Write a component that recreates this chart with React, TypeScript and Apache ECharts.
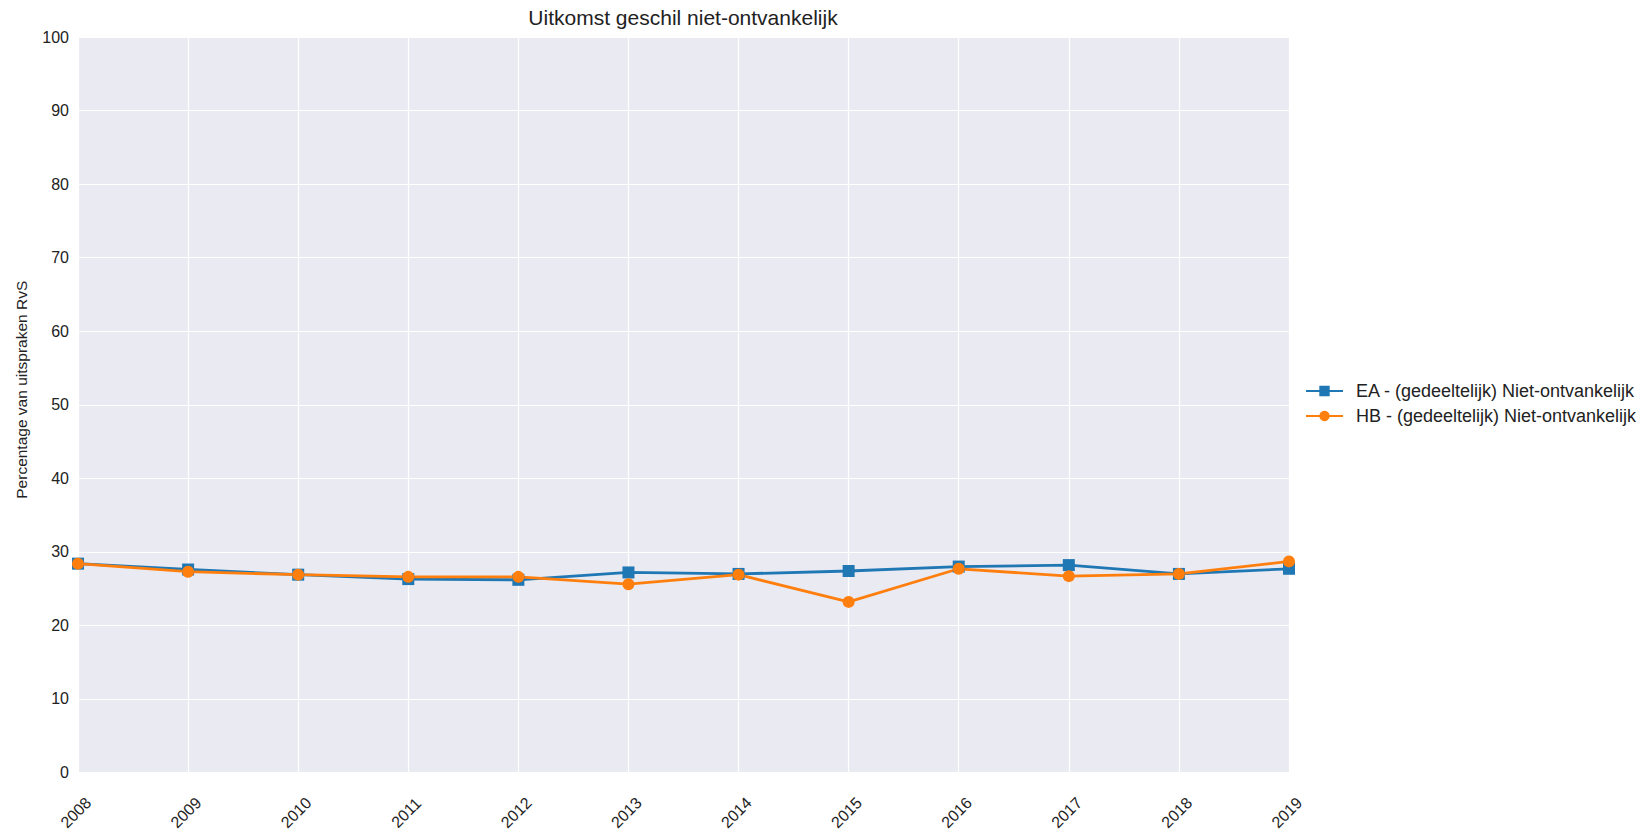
import React, { useEffect, useRef } from "react";
import * as echarts from "echarts";

const years = ["2008", "2009", "2010", "2011", "2012", "2013", "2014", "2015", "2016", "2017", "2018", "2019"];
const eaValues = [28.4, 27.6, 26.9, 26.3, 26.2, 27.2, 27.0, 27.4, 28.0, 28.2, 27.0, 27.7];
const hbValues = [28.4, 27.3, 26.9, 26.6, 26.6, 25.6, 26.9, 23.2, 27.7, 26.7, 27.0, 28.7];
const seriesNames = ["EA - (gedeeltelijk) Niet-ontvankelijk", "HB - (gedeeltelijk) Niet-ontvankelijk"];
const yTicks = { min: 0, max: 100, interval: 10 };

export default function App() {
  const ref = useRef<HTMLDivElement>(null);
  useEffect(() => {
    if (!ref.current) return;
    const chart = echarts.init(ref.current, null, { renderer: "svg" });
    const font = "Liberation Sans, Arial, sans-serif";
    chart.setOption({
      animation: false,
      backgroundColor: "#ffffff",
      title: {
        text: "Uitkomst geschil niet-ontvankelijk",
        left: 678,
        textAlign: "center",
        top: 2,
        textStyle: { fontFamily: font, fontWeight: "normal", fontSize: 21, color: "#222" },
      },
      legend: {
        orient: "vertical",
        left: 1300,
        top: 377,
        itemGap: 7,
        itemWidth: 37,
        itemHeight: 13,
        textStyle: { fontFamily: font, fontSize: 18, color: "#222", padding: [0, 0, 0, 8] },
        data: seriesNames,
      },
      grid: {
        show: true,
        backgroundColor: "#eaeaf2",
        borderWidth: 0,
        left: 78,
        right: 359,
        top: 37,
        bottom: 60,
        containLabel: false,
      },
      xAxis: {
        type: "category",
        data: years,
        boundaryGap: false,
        axisLine: { show: false },
        axisTick: { show: false },
        splitLine: { show: true, lineStyle: { color: "#ffffff", width: 1.2 } },
        axisLabel: {
          rotate: 45,
          align: "center",
          verticalAlign: "middle",
          margin: 38,
          padding: [0, 6, 0, 0],
          fontFamily: font,
          fontSize: 16,
          color: "#222",
        },
      },
      yAxis: {
        type: "value",
        min: yTicks.min,
        max: yTicks.max,
        interval: yTicks.interval,
        name: "Percentage van uitspraken RvS",
        nameLocation: "middle",
        nameGap: 49,
        nameTextStyle: { fontFamily: font, fontSize: 15.5, color: "#222", padding: [0, 0, 0, 30] },
        axisLine: { show: false },
        axisTick: { show: false },
        splitLine: { show: true, lineStyle: { color: "#ffffff", width: 1.2 } },
        axisLabel: { fontFamily: font, fontSize: 16, color: "#222", margin: 9 },
      },
      series: [
        {
          name: seriesNames[0],
          type: "line",
          data: eaValues,
          symbol: "rect",
          symbolSize: 12,
          lineStyle: { width: 2.8, color: "#1f77b4" },
          itemStyle: { color: "#1f77b4" },
        },
        {
          name: seriesNames[1],
          type: "line",
          data: hbValues,
          symbol: "circle",
          symbolSize: 12,
          lineStyle: { width: 2.8, color: "#ff7f0e" },
          itemStyle: { color: "#ff7f0e" },
        },
      ],
    });
    return () => chart.dispose();
  }, []);
  return <div ref={ref} style={{ position: "absolute", left: 0, top: 0, width: 1648, height: 833 }} />;
}
